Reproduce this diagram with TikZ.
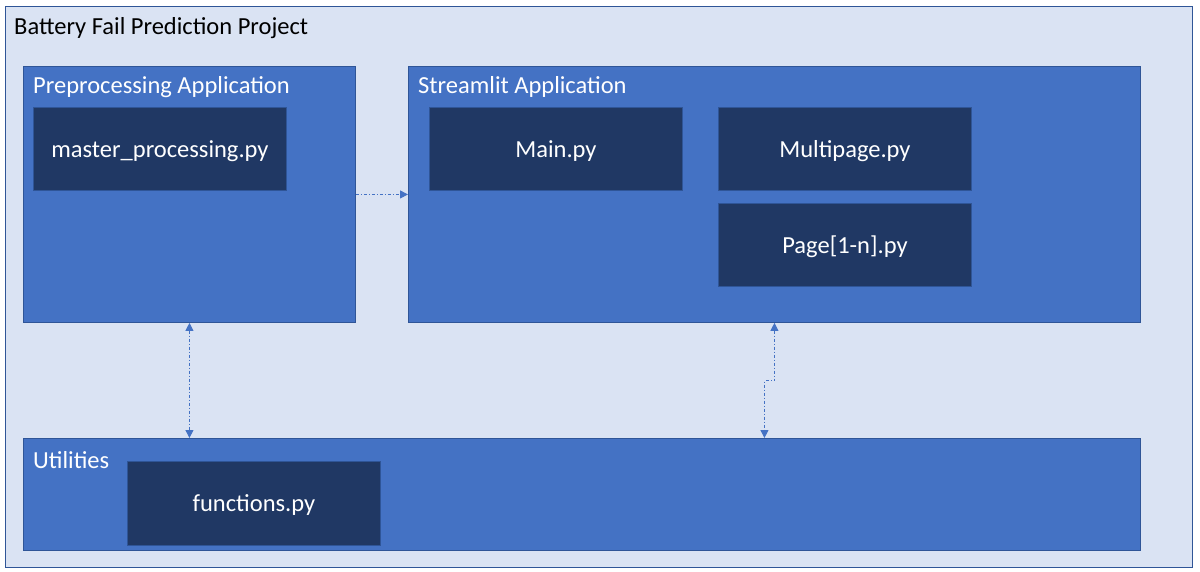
\documentclass[tikz,border=0pt]{standalone}
\usepackage{fontspec}
\setmainfont{Carlito}
\usetikzlibrary{arrows.meta}
\definecolor{outerfill}{HTML}{DAE3F3}
\definecolor{edgeblue}{HTML}{2F5597}
\definecolor{midblue}{HTML}{4472C4}
\definecolor{darkblue}{HTML}{203864}
\tikzset{
  areabox/.style={draw=edgeblue, line width=0.9pt, fill=midblue, anchor=north west, inner sep=0pt},
  filebox/.style={draw=edgeblue, line width=0.9pt, fill=darkblue, anchor=north west, inner sep=0pt,
     text=white, font=\fontsize{24.5}{29}\selectfont, text depth=0pt, text height=17pt},
  arealabel/.style={anchor=west, text=white, font=\fontsize{24.5}{29}\selectfont, inner sep=0pt},
  link/.style={draw=midblue, line width=0.9pt, dash pattern=on 3pt off 2pt on 1pt off 2pt,
     {Triangle[width=8pt,length=8pt]}-{Triangle[width=8pt,length=8pt]}},
  onelink/.style={draw=midblue, line width=0.9pt, dash pattern=on 3pt off 2pt on 1pt off 2pt,
     -{Triangle[width=8pt,length=8pt]}},
}
\begin{document}
\begin{tikzpicture}[x=1pt, y=-1pt]
\useasboundingbox (0,0) rectangle (1200,572);
\fill[white] (0,0) rectangle (1200,572);
\node[draw=edgeblue, line width=0.9pt, fill=outerfill, anchor=north west, inner sep=0pt,
      minimum width=1187pt, minimum height=561pt] (proj) at (5,6) {};
\node[anchor=west, inner sep=0pt, font=\fontsize{24.5}{29}\selectfont] (title) at (14,28) {Battery Fail Prediction Project};

\node[areabox, minimum width=332pt, minimum height=256pt] (pre) at (23,66) {};
\node[arealabel] (prelbl) at (33,87) {Preprocessing Application};
\node[filebox, minimum width=253pt, minimum height=83pt] (master) at (33,107) {master\_processing.py};

\node[areabox, minimum width=732pt, minimum height=256pt] (st) at (408,66) {};
\node[arealabel] (stlbl) at (418,87) {Streamlit Application};
\node[filebox, minimum width=253pt, minimum height=83pt] (main) at (429,107) {Main.py};
\node[filebox, minimum width=253pt, minimum height=83pt] (multi) at (718,107) {Multipage.py};
\node[filebox, minimum width=253pt, minimum height=83pt] (page) at (718,203) {Page[1-n].py};

\node[areabox, minimum width=1117pt, minimum height=112pt] (util) at (23,438) {};
\node[arealabel] (utillbl) at (33,460) {Utilities};
\node[filebox, minimum width=253pt, minimum height=84pt] (func) at (127,461) {functions.py};

\draw[onelink] (pre.east) -- (st.west);
\draw[link] (pre.south) -- (util.north -| pre.south);
\draw[link] (st.south) -- ++(0,58) -| ([xshift=-10pt]util.north -| st.south);
\end{tikzpicture}
\end{document}
